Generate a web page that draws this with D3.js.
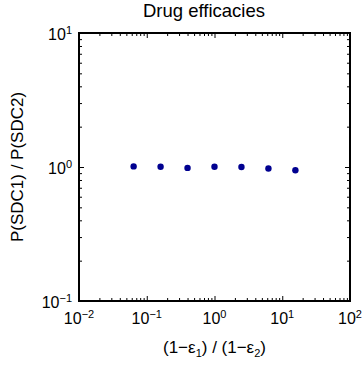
<!DOCTYPE html>
<html>
<head>
<meta charset="utf-8">
<script src="https://cdn.jsdelivr.net/npm/d3@7"></script>
<style>
  body { margin: 0; background: #fff; }
  text { font-family: "Liberation Sans", Arial, sans-serif; fill: #000; }
</style>
</head>
<body>
<svg id="chart"></svg>
<script>
const ratios = [0.064, 0.16, 0.4, 1, 2.5, 6.25, 15.625];
const pRatio = [1.01, 1.005, 0.985, 1.005, 1.0, 0.975, 0.945];
const xDecades = [-2, -1, 0, 1, 2];
const yDecades = [-1, 0, 1];

const width = 362;
const height = 366;
const margin = { left: 79, right: 12, top: 33, bottom: 65 };

const svg = d3.select('#chart').attr('width', width).attr('height', height);

const xScale = d3.scaleLog()
  .domain([1e-2, 1e2])
  .range([margin.left, width - margin.right]);

const yScale = d3.scaleLog()
  .domain([1e-1, 1e1])
  .range([height - margin.bottom, margin.top]);

const minorVals = (decades) => {
  const out = [];
  for (let i = 0; i < decades.length - 1; i++) {
    for (let m = 2; m <= 9; m++) out.push(m * Math.pow(10, decades[i]));
  }
  return out;
};

const majorX = xDecades.map(d => Math.pow(10, d));
const majorY = yDecades.map(d => Math.pow(10, d));

const plotW = width - margin.left - margin.right;
const plotH = height - margin.top - margin.bottom;

// ticks (inward) on all four sides
const addAxis = (axis, tr) => {
  const g = svg.append('g').attr('transform', tr).call(axis);
  g.select('.domain').remove();
  g.selectAll('line').attr('stroke', '#000').attr('stroke-width', 1);
  g.selectAll('text').remove();
  return g;
};

const trBottom = 'translate(0,' + (height - margin.bottom) + ')';
const trTop = 'translate(0,' + margin.top + ')';
const trLeft = 'translate(' + margin.left + ',0)';
const trRight = 'translate(' + (width - margin.right) + ',0)';

addAxis(d3.axisBottom(xScale).tickValues(majorX).tickSize(-5), trBottom);
addAxis(d3.axisBottom(xScale).tickValues(minorVals(xDecades)).tickSize(-3), trBottom);
addAxis(d3.axisTop(xScale).tickValues(majorX).tickSize(-5), trTop);
addAxis(d3.axisTop(xScale).tickValues(minorVals(xDecades)).tickSize(-3), trTop);
addAxis(d3.axisLeft(yScale).tickValues(majorY).tickSize(-5), trLeft);
addAxis(d3.axisLeft(yScale).tickValues(minorVals(yDecades)).tickSize(-3), trLeft);
addAxis(d3.axisRight(yScale).tickValues(majorY).tickSize(-5), trRight);
addAxis(d3.axisRight(yScale).tickValues(minorVals(yDecades)).tickSize(-3), trRight);

// frame
svg.append('rect')
  .attr('x', margin.left)
  .attr('y', margin.top)
  .attr('width', plotW)
  .attr('height', plotH)
  .attr('fill', 'none')
  .attr('stroke', '#000')
  .attr('stroke-width', 2);

// tick labels with superscript exponents
const powLabel = (sel, exp) => {
  sel.append('tspan').text('10');
  sel.append('tspan')
    .attr('dy', -6)
    .attr('font-size', 11)
    .text(exp < 0 ? '\u2212' + Math.abs(exp) : exp);
};

xDecades.forEach(d => {
  const t = svg.append('text')
    .attr('x', xScale(Math.pow(10, d)))
    .attr('y', height - margin.bottom + 22.5)
    .attr('text-anchor', 'middle')
    .attr('font-size', 16);
  powLabel(t, d);
});

yDecades.forEach(d => {
  const t = svg.append('text')
    .attr('x', margin.left - 7)
    .attr('y', yScale(Math.pow(10, d)) + 6.5)
    .attr('text-anchor', 'end')
    .attr('font-size', 16);
  powLabel(t, d);
});

// data points
svg.append('g')
  .selectAll('circle')
  .data(ratios)
  .enter()
  .append('circle')
  .attr('cx', (d) => xScale(d))
  .attr('cy', (d, i) => yScale(pRatio[i]))
  .attr('r', 3.2)
  .attr('fill', '#000090');

// title
svg.append('text')
  .attr('x', 204)
  .attr('y', 17)
  .attr('text-anchor', 'middle')
  .attr('font-size', 18.5)
  .text('Drug efficacies');

// x label
const xl = svg.append('text')
  .attr('x', margin.left + plotW / 2)
  .attr('y', 353)
  .attr('text-anchor', 'middle')
  .attr('font-size', 17);
xl.append('tspan').text('(1\u2212\u03b5');
xl.append('tspan').attr('dy', 4).attr('font-size', 11).text('1');
xl.append('tspan').attr('dy', -4).text(') / (1\u2212\u03b5');
xl.append('tspan').attr('dy', 4).attr('font-size', 11).text('2');
xl.append('tspan').attr('dy', -4).text(')');

// y label
svg.append('text')
  .attr('transform', 'translate(23,' + (margin.top + plotH / 2) + ') rotate(-90)')
  .attr('text-anchor', 'middle')
  .attr('font-size', 17)
  .text('P(SDC1) / P(SDC2)');
</script>
</body>
</html>
